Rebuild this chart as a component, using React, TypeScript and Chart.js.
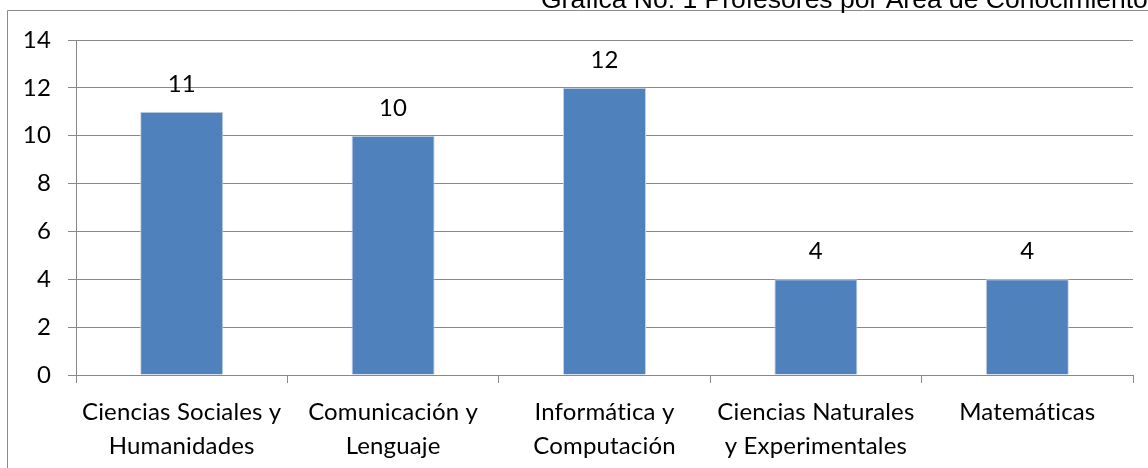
import React, { useEffect, useRef } from "react";
import { Chart, registerables } from "chart.js";

Chart.register(...registerables);

const categories: string[][] = [
  ["Ciencias Sociales y", "Humanidades"],
  ["Comunicación y", "Lenguaje"],
  ["Informática y", "Computación"],
  ["Ciencias Naturales", "y Experimentales"],
  ["Matemáticas"],
];
const profesores: number[] = [11, 10, 12, 4, 4];
const yTicks: number[] = [0, 2, 4, 6, 8, 10, 12, 14];
const titleText = "Grafica No. 1 Profesores por Área de Conocimiento";

const FONT = "Lato, 'Open Sans', sans-serif";
const GRID = "#898989";

export default function App() {
  const ref = useRef<HTMLCanvasElement | null>(null);

  useEffect(() => {
    document.body.style.margin = "0";
    const canvas = ref.current;
    if (!canvas) return;

    const decorPlugin = {
      id: "decor",
      beforeDraw(chart: any) {
        const ctx = chart.ctx;
        // a tiny letter spacing keeps Lato from forming the "ti" ligature
        (ctx as any).letterSpacing = "0.15px";
        ctx.save();
        ctx.fillStyle = "#ffffff";
        ctx.fillRect(0, 0, chart.width, chart.height);
        ctx.strokeStyle = "#8a8a8a";
        ctx.lineWidth = 1;
        ctx.beginPath();
        ctx.moveTo(7.5, chart.height + 2);
        ctx.lineTo(7.5, 10.5);
        ctx.lineTo(chart.width + 2, 10.5);
        ctx.stroke();
        ctx.fillStyle = "#000000";
        (ctx as any).letterSpacing = "0px";
        ctx.font = "26.5px 'Liberation Sans', Arial, sans-serif";
        ctx.textAlign = "left";
        ctx.textBaseline = "alphabetic";
        ctx.fillText(titleText, 541, 8);
        ctx.restore();
      },
      afterDatasetsDraw(chart: any) {
        const ctx = chart.ctx;
        const meta = chart.getDatasetMeta(0);
        ctx.save();
        ctx.fillStyle = "#000000";
        ctx.font = `24px ${FONT}`;
        ctx.textAlign = "center";
        ctx.textBaseline = "alphabetic";
        meta.data.forEach((bar: any, i: number) => {
          ctx.fillText(String(profesores[i]), bar.x, bar.y - 20);
        });
        ctx.restore();
      },
    };

    const chart = new Chart(canvas, {
      type: "bar",
      data: {
        labels: categories,
        datasets: [
          {
            data: profesores,
            backgroundColor: "#4F81BD",
            borderColor: "#c8d3e2",
            borderWidth: 1,
            categoryPercentage: 1,
            barPercentage: 0.393,
          },
        ],
      },
      options: {
        responsive: false,
        animation: false,
        devicePixelRatio: 1,
        layout: { padding: { left: 0, top: 40, right: 15, bottom: 0 } },
        plugins: {
          legend: { display: false },
          tooltip: { enabled: false },
          title: { display: false },
        },
        scales: {
          x: {
            offset: true,
            grid: {
              display: true,
              offset: true,
              drawOnChartArea: false,
              drawTicks: true,
              tickLength: 8,
              color: GRID,
            },
            border: { display: true, color: GRID, width: 1 },
            ticks: {
              color: "#000000",
              padding: 12,
              maxRotation: 0,
              autoSkip: false,
              font: { family: FONT, size: 24, lineHeight: 1.42 },
            },
            afterFit(scale: any) {
              scale.height = 93;
            },
          },
          y: {
            min: 0,
            max: 14,
            afterBuildTicks(scale: any) {
              scale.ticks = yTicks.map((v) => ({ value: v }));
            },
            grid: {
              color: GRID,
              tickLength: 8,
              drawTicks: true,
            },
            border: { display: true, color: GRID, width: 1 },
            ticks: {
              color: "#000000",
              padding: 17,
              font: { family: FONT, size: 24 },
            },
            afterFit(scale: any) {
              scale.width = 76;
            },
          },
        },
      },
      plugins: [decorPlugin],
    });

    return () => chart.destroy();
  }, []);

  return (
    <div
      style={{
        position: "fixed",
        left: 0,
        top: 0,
        width: 1148,
        height: 468,
        overflow: "hidden",
        background: "#fff",
      }}
    >
      <canvas ref={ref} width={1148} height={468} style={{ display: "block" }} />
    </div>
  );
}
